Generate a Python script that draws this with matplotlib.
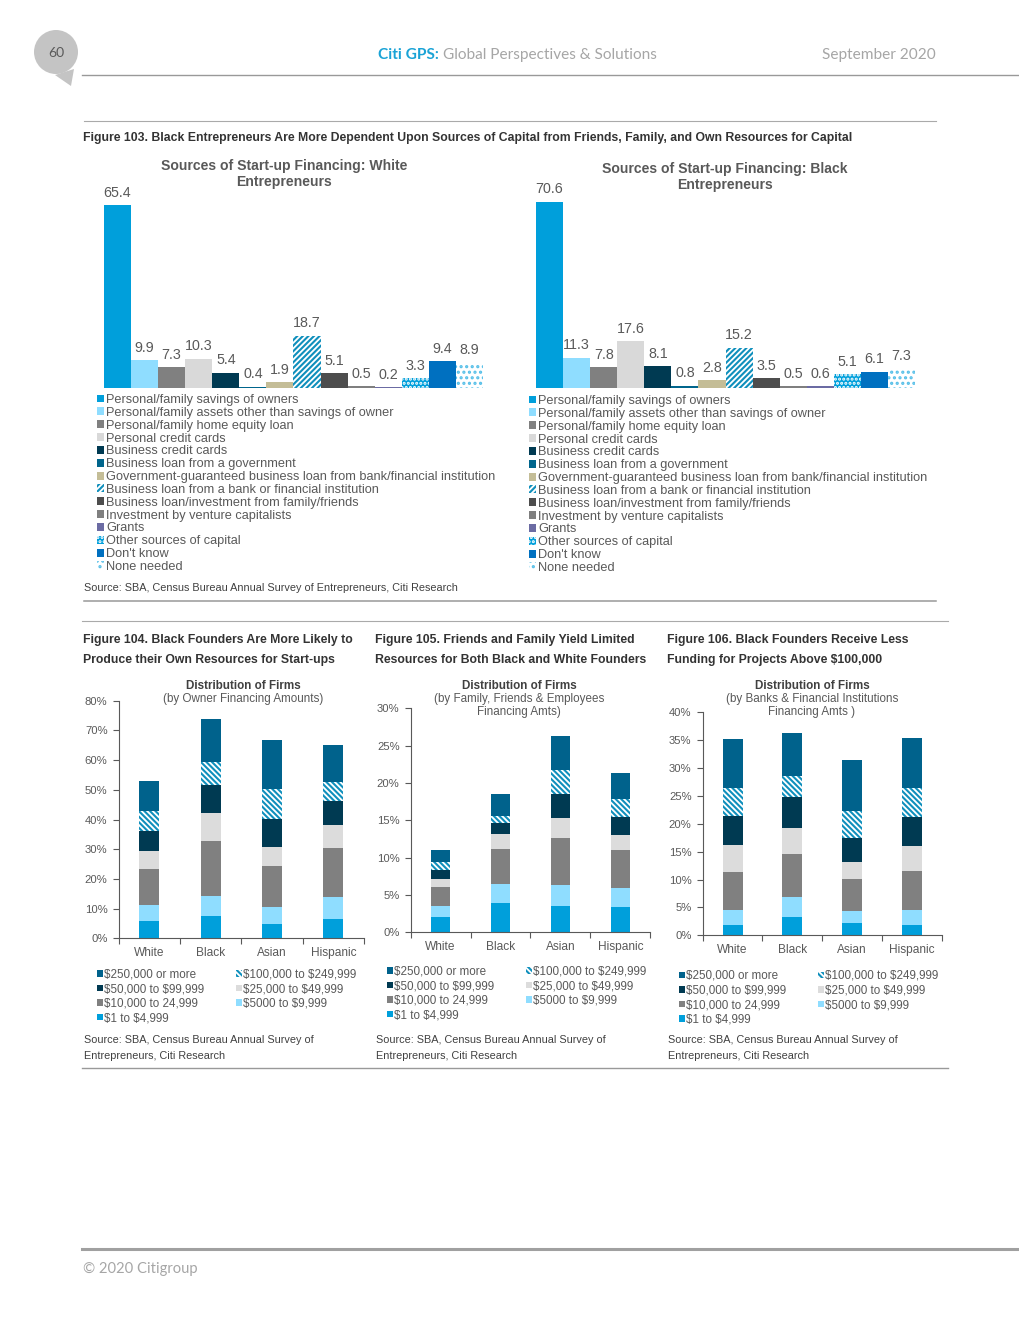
import numpy as np
import matplotlib
matplotlib.use('Agg')
import matplotlib.pyplot as plt
from matplotlib.patches import Patch, Circle, Polygon

plt.rcParams['font.family'] = ['Liberation Sans', 'DejaVu Sans']
plt.rcParams['hatch.linewidth'] = 1.5

# Data: figure 103
sources = ['Personal/family savings of owners',
           'Personal/family assets other than savings of owner',
           'Personal/family home equity loan',
           'Personal credit cards',
           'Business credit cards',
           'Business loan from a government',
           'Government-guaranteed business loan from bank/financial institution',
           'Business loan from a bank or financial institution',
           'Business loan/investment from family/friends',
           'Investment by venture capitalists',
           'Grants',
           'Other sources of capital',
           "Don't know",
           'None needed']
white_sources = [65.4, 9.9, 7.3, 10.3, 5.4, 0.4, 1.9, 18.7, 5.1, 0.5, 0.2, 3.3, 9.4, 8.9]
black_sources = [70.6, 11.3, 7.8, 17.6, 8.1, 0.8, 2.8, 15.2, 3.5, 0.5, 0.6, 5.1, 6.1, 7.3]

# Data: figures 104-106, one list per band, bottom band first
groups = ['White', 'Black', 'Asian', 'Hispanic']
bands = ['\\$1 to \\$4,999', '\\$5000 to \\$9,999', '\\$10,000 to 24,999', '\\$25,000 to \\$49,999',
         '\\$50,000 to \\$99,999', '\\$100,000 to \\$249,999', '\\$250,000 or more']

owner_1 = [5.8, 7.5, 4.8, 6.5]
owner_2 = [5.4, 6.8, 5.7, 7.4]
owner_3 = [12.1, 18.5, 13.9, 16.5]
owner_4 = [6.1, 9.4, 6.4, 7.8]
owner_5 = [6.7, 9.4, 9.4, 8.0]
owner_6 = [6.8, 7.8, 10.1, 6.4]
owner_7 = [10.1, 14.4, 16.5, 12.5]

family_1 = [2.05, 3.9, 3.5, 3.4]
family_2 = [1.5, 2.6, 2.8, 2.5]
family_3 = [2.5, 4.7, 6.3, 5.1]
family_4 = [1.1, 1.9, 2.7, 2.0]
family_5 = [1.2, 1.6, 3.2, 2.5]
family_6 = [1.1, 0.9, 3.2, 2.3]
family_7 = [1.6, 2.9, 4.6, 3.5]

banks_1 = [1.85, 3.3, 2.2, 1.85]
banks_2 = [2.7, 3.6, 2.2, 2.7]
banks_3 = [6.8, 7.7, 5.7, 6.9]
banks_4 = [4.8, 4.7, 3.1, 4.6]
banks_5 = [5.2, 5.5, 4.3, 5.2]
banks_6 = [5.0, 3.8, 4.8, 5.2]
banks_7 = [8.8, 7.7, 9.2, 9.0]

W, H = 1020, 1320
GREY = '#595959'
PAGE_FONT = ['Lato', 'DejaVu Sans']

fig = plt.figure(figsize=(W / 100, H / 100), dpi=100)

# Page layer in pixel coordinates
page = fig.add_axes([0, 0, 1, 1])
page.set_xlim(0, W)
page.set_ylim(H, 0)
page.axis('off')


def ax_px(left, top, right, bottom):
    a = fig.add_axes([left / W, 1 - bottom / H, (right - left) / W, (bottom - top) / H])
    a.patch.set_alpha(0)
    return a


def style_for(i):
    # facecolor, edgecolor, hatch for the 14 source bars
    colors = ['#009FDB', '#8FDDFF', '#808080', '#D9D9D9', '#003A52', '#00658C', '#C4BD97',
              '#FFFFFF', '#4D4D4D', '#7F7F7F', '#6B6BA3', '#009FDB', '#0070C0', '#FFFFFF']
    edge = colors[i]
    hatch = None
    if i == 7:
        edge, hatch = '#0F8FBC', '//////'
    if i == 11:
        edge, hatch = '#FFFFFF', '....'
    if i == 13:
        edge, hatch = '#55BFE8', '...'
    return dict(facecolor=colors[i], edgecolor=edge, hatch=hatch, linewidth=0)


band_styles = [dict(facecolor='#009FDB'),
               dict(facecolor='#8FDDFF'),
               dict(facecolor='#808080'),
               dict(facecolor='#DCDCDC'),
               dict(facecolor='#003A52'),
               dict(facecolor='#FFFFFF', edgecolor='#0F8FBC', hatch='\\\\\\\\\\\\'),
               dict(facecolor='#00628C')]


def source_chart(values, left, top, right, bottom, scale, title, title_x, title_y, leg_x, leg_y):
    a = ax_px(left, top, right, bottom)
    x = np.arange(len(values))
    bars = a.bar(x, values, width=1.0)
    for i, b in enumerate(bars):
        b.set(**style_for(i))
    a.bar_label(bars, fmt='%.1f', padding=4, fontsize=10.3, color=GREY)
    a.set_xlim(-0.5, len(values) - 0.5)
    a.set_ylim(0, (bottom - top) / scale)
    a.axis('off')
    page.text(title_x, title_y, title, ha='center', va='center', fontsize=10.1,
              fontweight='bold', color=GREY, linespacing=1.18)
    handles = [Patch(label=s, **style_for(i)) for i, s in enumerate(sources)]
    leg = page.legend(handles=handles, loc='upper left', bbox_to_anchor=(leg_x, leg_y),
                      bbox_transform=page.transData, frameon=False, borderpad=0, borderaxespad=0,
                      fontsize=9.2, labelcolor=GREY, handlelength=0.58, handleheight=0.58,
                      handletextpad=0.12, labelspacing=0.066)
    page.add_artist(leg)
    page.legend_ = None
    return a


def stacked_chart(rows, left, top, right, bottom, ymax, step, width, title, sub, title_x,
                  leg_x, leg_y, col_gap):
    a = ax_px(left, top, right, bottom)
    x = np.arange(len(groups))
    base = np.zeros(len(groups))
    for vals, st in zip(rows, band_styles):
        a.bar(x, vals, width=width, bottom=base, linewidth=0, **st)
        base = base + np.array(vals)
    a.set_xlim(-0.5, 3.5)
    a.set_ylim(0, ymax)
    a.set_yticks(np.arange(0, ymax + 1, step))
    a.set_yticklabels(['%d%%' % v for v in np.arange(0, ymax + 1, step)])
    a.set_xticks([-0.5, 0.5, 1.5, 2.5, 3.5])
    a.set_xticklabels([])
    a.set_xticks(x, minor=True)
    a.set_xticklabels(groups, minor=True)
    a.tick_params(axis='x', which='minor', length=0, pad=6, labelsize=8.6, labelcolor=GREY)
    a.tick_params(axis='x', which='major', length=4, width=0.8, color='#595959')
    a.tick_params(axis='y', length=4, width=0.8, color='#595959', labelsize=8.1, labelcolor=GREY, pad=4)
    a.spines['top'].set_visible(False)
    a.spines['right'].set_visible(False)
    a.spines['left'].set_color('#595959')
    a.spines['bottom'].set_color('#595959')
    page.text(title_x, 686, title, ha='center', va='center', fontsize=8.4,
              fontweight='bold', color='#404040')
    page.text(title_x, 699 + 6.5 * sub.count('\n'), sub, ha='center', va='center', fontsize=8.4,
              color=GREY, linespacing=1.17)
    handles = [Patch(label=bands[i], linewidth=0, **band_styles[i]) for i in [6, 4, 2, 0, 5, 3, 1]]
    leg = page.legend(handles=handles, ncols=2, loc='upper left', bbox_to_anchor=(leg_x, leg_y),
                      bbox_transform=page.transData, frameon=False, borderpad=0, borderaxespad=0,
                      fontsize=8.35, labelcolor=GREY, handlelength=0.5, handleheight=0.5,
                      handletextpad=0.1, labelspacing=0.22, columnspacing=col_gap)
    page.add_artist(leg)
    page.legend_ = None
    return a


source_chart(white_sources, 104, 150, 483, 387.7, 2.79,
             'Sources of Start-up Financing: White\nEntrepreneurs', 284, 174, 97, 394)
source_chart(black_sources, 536, 150, 915, 387.7, 2.63,
             'Sources of Start-up Financing: Black\nEntrepreneurs', 725, 177, 529, 395)

stacked_chart([owner_1, owner_2, owner_3, owner_4, owner_5, owner_6, owner_7],
              118.7, 700.7, 364, 938.3, 80, 10, 0.33, 'Distribution of Firms',
              '(by Owner Financing Amounts)', 243.5, 97, 968.5, 2.75)
stacked_chart([family_1, family_2, family_3, family_4, family_5, family_6, family_7],
              410.7, 708.3, 650.3, 932.3, 30, 5, 0.32, 'Distribution of Firms',
              '(by Family, Friends & Employees\nFinancing Amts)', 519, 387, 965.5, 2.75)
stacked_chart([banks_1, banks_2, banks_3, banks_4, banks_5, banks_6, banks_7],
              702.7, 712.3, 941.7, 935.3, 40, 5, 0.335, 'Distribution of Firms',
              '(by Banks & Financial Institutions\nFinancing Amts )', 812, 679, 970, 2.75)

# Page furniture
page.add_patch(Polygon([[74, 69], [55, 75], [71, 86]], closed=True, facecolor='#C4C4C4', edgecolor='none'))
page.add_patch(Circle((56, 52), 22, facecolor='#C4C4C4', edgecolor='none'))
page.text(56, 53, '60', ha='center', va='center', fontsize=10, color=GREY, family=PAGE_FONT)
page.text(378, 55, 'Citi GPS:', ha='left', va='center', fontsize=11.1, fontweight='bold',
          color='#1AA3D6', family=PAGE_FONT)
page.text(443, 55, 'Global Perspectives & Solutions', ha='left', va='center', fontsize=11.1,
          color='#A6A6A6', family=PAGE_FONT)
page.text(936, 55, 'September 2020', ha='right', va='center', fontsize=11.1,
          color='#A6A6A6', family=PAGE_FONT)
page.text(83, 1269, '\u00a9 2020 Citigroup', ha='left', va='center', fontsize=10.6,
          color='#A6A6A6', family=PAGE_FONT)

page.plot([82, 1020], [75, 75], color='#999999', lw=1)
page.plot([84, 936], [121, 121], color='#AAAAAA', lw=0.8)
page.plot([84, 936], [601, 601], color='#999999', lw=1.1)
page.plot([82, 948], [621, 621], color='#AAAAAA', lw=0.8)
page.plot([82, 948], [1068, 1068], color='#999999', lw=1)
page.plot([82, 1020], [1248.5, 1248.5], color='#A0A0A0', lw=2.2)

page.text(83, 138, 'Figure 103. Black Entrepreneurs Are More Dependent Upon Sources of Capital from Friends, Family, and Own Resources for Capital',
          ha='left', va='center', fontsize=8.8, fontweight='bold', color='#333333')
page.text(84, 588, 'Source: SBA, Census Bureau Annual Survey of Entrepreneurs, Citi Research',
          ha='left', va='center', fontsize=7.85, color='#404040')

heads = [(83, 'Figure 104. Black Founders Are More Likely to\nProduce their Own Resources for Start-ups'),
         (375, 'Figure 105. Friends and Family Yield Limited\nResources for Both Black and White Founders'),
         (667, 'Figure 106. Black Founders Receive Less\nFunding for Projects Above \\$100,000')]
for hx, head in heads:
    page.text(hx, 650, head, ha='left', va='center', fontsize=8.8, fontweight='bold',
              color='#333333', linespacing=1.85)
    page.text(hx + 1, 1048, 'Source: SBA, Census Bureau Annual Survey of\nEntrepreneurs, Citi Research',
              ha='left', va='center', fontsize=7.85, color='#404040', linespacing=1.7)

fig.savefig('out.png', dpi=100)
